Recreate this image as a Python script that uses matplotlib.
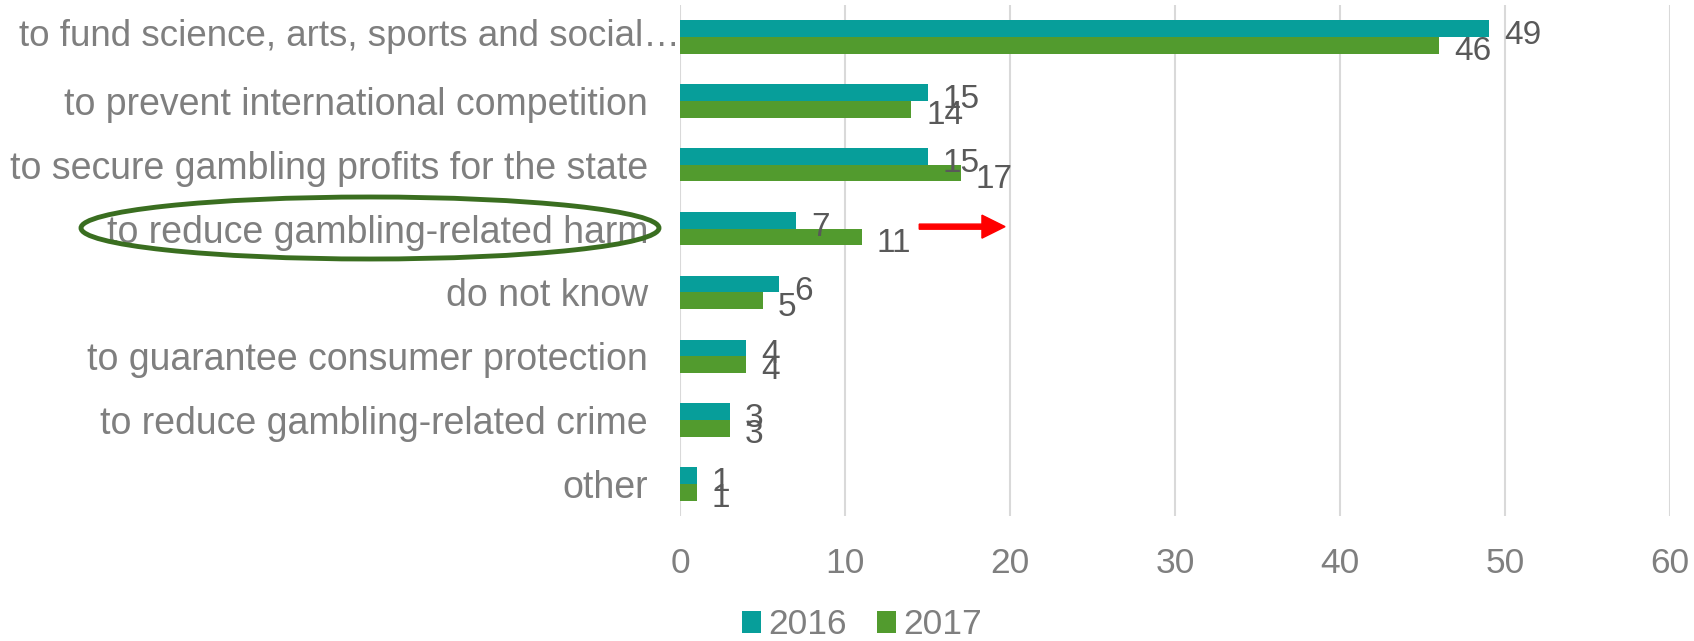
import numpy as np
import matplotlib.pyplot as plt
from matplotlib.patches import Ellipse, FancyArrow

plt.rcParams['font.family'] = ['Liberation Sans', 'DejaVu Sans']

categories = [
    "to fund science, arts, sports and social\u2026",
    "to prevent international competition",
    "to secure gambling profits for the state",
    "to reduce gambling-related harm",
    "do not know",
    "to guarantee consumer protection",
    "to reduce gambling-related crime",
    "other",
]
values_2016 = [49, 15, 15, 7, 6, 4, 3, 1]
values_2017 = [46, 14, 17, 11, 5, 4, 3, 1]

c2016 = "#079E9A"
c2017 = "#529B2E"
label_grey = "#7F7F7F"
value_grey = "#595959"

fig = plt.figure(figsize=(16.94, 6.41), dpi=100)
ax = fig.add_axes([680 / 1694, 1 - 516 / 641, 990 / 1694, 511 / 641])

y = np.arange(len(categories))
h = 0.262
ax.barh(y - h / 2, values_2016, height=h, color=c2016, label="2016", zorder=3)
ax.barh(y + h / 2, values_2017, height=h, color=c2017, label="2017", zorder=3)

# value labels just past the bar ends
for i, (a, b) in enumerate(zip(values_2016, values_2017)):
    ax.annotate(str(a), (a, i - h / 2), xytext=(11, -5), textcoords="offset points",
                va="center", ha="left", fontsize=24, color=value_grey)
    ax.annotate(str(b), (b, i + h / 2), xytext=(11, -4.5), textcoords="offset points",
                va="center", ha="left", fontsize=24, color=value_grey)

ax.set_xlim(0, 60)
ax.set_ylim(len(categories) - 0.5, -0.5)
ax.set_xticks(range(0, 61, 10))
ax.set_yticks(y)
ax.set_yticklabels([""] + categories[1:])
ax.tick_params(axis="y", length=0, pad=23, labelsize=27, labelcolor=label_grey)
ax.tick_params(axis="x", length=0, pad=22, labelsize=25.5, labelcolor=label_grey)
ax.grid(axis="x", color="#D9D9D9", linewidth=1.5, zorder=0)
for s in ax.spines.values():
    s.set_visible(False)

# the long first label runs past the others
ax.text(0.0, 0, categories[0], transform=ax.get_yaxis_transform(),
        ha="right", va="center", fontsize=26.5, color=label_grey)

# arrow next to the harm-reduction row
ax.add_patch(FancyArrow(14.5, 2.97, 3.8, 0, width=0.08, head_width=0.36,
                        head_length=1.4, length_includes_head=False,
                        color="#FF0000", zorder=4, clip_on=False))

# ring around the harm-reduction label
fig.add_artist(Ellipse((370 / 1694, 1 - 228 / 641), 578 / 1694, 62 / 641,
                       transform=fig.transFigure, fill=False,
                       edgecolor="#3A6E20", linewidth=3.5))

fig.legend(loc="center", bbox_to_anchor=(862 / 1694, 1 - 625 / 641), ncol=2,
           frameon=False, fontsize=25.5, handlelength=0.54, handleheight=0.54,
           handletextpad=0.2, columnspacing=0.85, labelcolor=label_grey)

fig.savefig("out.png", dpi=100)
